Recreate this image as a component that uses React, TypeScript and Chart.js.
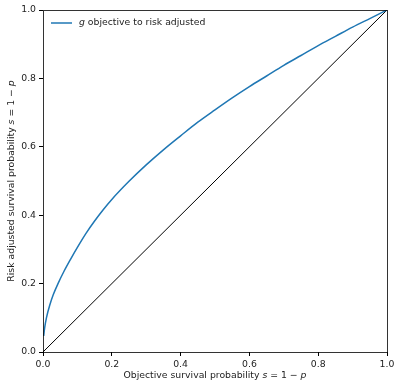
import React, { useEffect, useRef } from "react";
import { Chart, registerables } from "chart.js";

Chart.register(...registerables);

// Objective survival probability (x) and risk adjusted survival probability (y)
const objectiveS = [0.002, 0.005, 0.01, 0.02, 0.03, 0.045, 0.06, 0.08, 0.1, 0.125, 0.15, 0.175, 0.2, 0.25, 0.3, 0.35, 0.4, 0.45, 0.5, 0.55, 0.6, 0.65, 0.7, 0.75, 0.8, 0.85, 0.9, 0.95, 1.0];
const adjustedS = [0.047, 0.072, 0.1, 0.138, 0.168, 0.203, 0.234, 0.271, 0.306, 0.347, 0.383, 0.416, 0.446, 0.499, 0.547, 0.591, 0.632, 0.672, 0.708, 0.743, 0.776, 0.807, 0.838, 0.867, 0.896, 0.923, 0.95, 0.975, 1.0];
// identity line
const diagonalX = [0, 1];
const diagonalY = [0, 1];

const seriesLabel = "g objective to risk adjusted";
const xTitle = "Objective survival probability s = 1 − p";
const yTitle = "Risk adjusted survival probability s = 1 − p";
// the same texts split into upright / italic runs
const seriesLabelParts: [string, boolean][] = [["g", true], [" objective to risk adjusted", false]];
const xTitleParts: [string, boolean][] = [["Objective survival probability ", false], ["s", true], [" = 1 − ", false], ["p", true]];
const yTitleParts: [string, boolean][] = [["Risk adjusted survival probability ", false], ["s", true], [" = 1 − ", false], ["p", true]];

const axisMin = 0;
const axisMax = 1;
const tickStep = 0.2;

const FAMILY = "'DejaVu Sans', sans-serif";
const FSIZE = 9.3;
const TEXT = "#222";
const BLUE = "#1f77b4";

function fontOf(italic: boolean) {
  return `${italic ? "italic " : ""}${FSIZE}px ${FAMILY}`;
}

function drawRich(ctx: CanvasRenderingContext2D, parts: [string, boolean][], x: number, y: number, align: "left" | "center") {
  const widths = parts.map(([t, it]) => {
    ctx.font = fontOf(it);
    return ctx.measureText(t).width;
  });
  const total = widths.reduce((a, b) => a + b, 0);
  let cx = align === "center" ? x - total / 2 : x;
  ctx.textBaseline = "middle";
  ctx.textAlign = "left";
  ctx.fillStyle = TEXT;
  parts.forEach(([t, it], i) => {
    ctx.font = fontOf(it);
    ctx.fillText(t, cx, y);
    cx += widths[i];
  });
}

const decorPlugin = {
  id: "decor",
  afterDatasetsDraw(chart: any) {
    const { ctx, chartArea } = chart;
    const { left, top, right, bottom } = chartArea;
    ctx.save();
    // spines
    ctx.strokeStyle = "rgba(0,0,0,0.8)";
    ctx.lineWidth = 1;
    ctx.strokeRect(Math.round(left) + 0.5, Math.round(top) + 0.5, Math.round(right - left), Math.round(bottom - top));
    // legend
    const ds = chart.data.datasets[0];
    const ly = top + 13;
    ctx.strokeStyle = ds.borderColor;
    ctx.lineWidth = 1.5;
    ctx.beginPath();
    ctx.moveTo(left + 8, ly);
    ctx.lineTo(left + 29, ly);
    ctx.stroke();
    drawRich(ctx, seriesLabelParts, left + 36, ly, "left");
    // axis titles
    drawRich(ctx, xTitleParts, (left + right) / 2, 376, "center");
    ctx.translate(12, (top + bottom) / 2);
    ctx.rotate(-Math.PI / 2);
    drawRich(ctx, yTitleParts, 0, 0, "center");
    ctx.restore();
  },
};

export default function App() {
  const canvasRef = useRef<HTMLCanvasElement | null>(null);

  useEffect(() => {
    document.body.style.margin = "0";
    const canvas = canvasRef.current;
    if (!canvas) return;
    const chart = new Chart(canvas, {
      type: "line",
      data: {
        datasets: [
          {
            label: seriesLabel,
            data: objectiveS.map((x, i) => ({ x, y: adjustedS[i] })),
            borderColor: BLUE,
            backgroundColor: BLUE,
            borderWidth: 1.5,
            pointRadius: 0,
            cubicInterpolationMode: "monotone",
            fill: false,
          },
          {
            label: "diagonal",
            data: diagonalX.map((x, i) => ({ x, y: diagonalY[i] })),
            borderColor: "#000000",
            backgroundColor: "#000000",
            borderWidth: 1,
            pointRadius: 0,
            fill: false,
          },
        ],
      },
      options: {
        animation: false,
        responsive: true,
        maintainAspectRatio: false,
        layout: { padding: { left: 0, top: 10, right: 7, bottom: 0 } },
        plugins: {
          tooltip: { enabled: false },
          legend: { display: false },
          title: { display: false },
        },
        scales: {
          x: {
            type: "linear",
            min: axisMin,
            max: axisMax,
            afterFit: (scale: any) => {
              scale.height = 29;
              scale.paddingLeft = 0;
              scale.paddingRight = 0;
            },
            ticks: {
              stepSize: tickStep,
              color: TEXT,
              padding: 3,
              maxRotation: 0,
              font: { family: FAMILY, size: FSIZE },
              callback: (v: any) => Number(v).toFixed(1),
            },
            grid: { drawOnChartArea: false, drawTicks: true, tickLength: 4, color: "#000", lineWidth: 1 },
            border: { display: false },
            title: { display: false, text: xTitle },
          },
          y: {
            type: "linear",
            min: axisMin,
            max: axisMax,
            afterFit: (scale: any) => {
              scale.width = 43;
              scale.paddingTop = 0;
              scale.paddingBottom = 0;
            },
            ticks: {
              stepSize: tickStep,
              color: TEXT,
              padding: 3,
              font: { family: FAMILY, size: FSIZE },
              callback: (v: any) => Number(v).toFixed(1),
            },
            grid: { drawOnChartArea: false, drawTicks: true, tickLength: 4, color: "#000", lineWidth: 1 },
            border: { display: false },
            title: { display: false, text: yTitle },
          },
        },
      },
      plugins: [decorPlugin],
    } as any);
    return () => chart.destroy();
  }, []);

  return (
    <div style={{ position: "absolute", left: 0, top: 0, width: 394, height: 381 }}>
      <canvas ref={canvasRef} />
    </div>
  );
}
